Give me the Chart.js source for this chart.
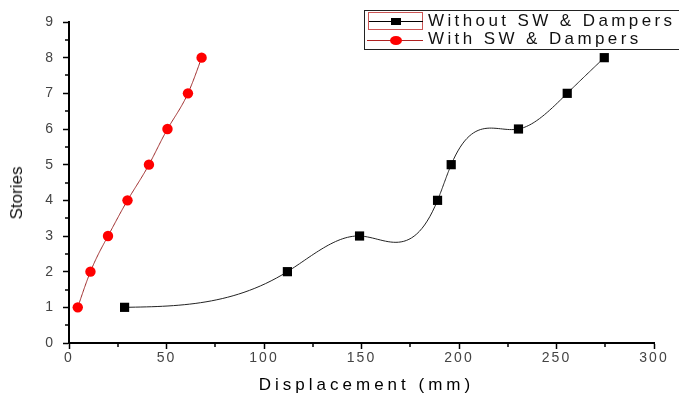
<!DOCTYPE html>
<html>
<head>
<meta charset="utf-8">
<script src="https://cdn.jsdelivr.net/npm/chart.js@4/dist/chart.umd.min.js"></script>
<style>
  html, body { margin: 0; padding: 0; background: #fff; }
  #wrap { position: relative; width: 679px; height: 394px; overflow: hidden; }
  canvas { position: absolute; left: 0; top: 0; }
  #legend {
    position: absolute; left: 364px; top: 10px; width: 340px; height: 40px;
    border: 1px solid #222; box-sizing: border-box;
  }
  .lab {
    position: absolute; left: 63px; white-space: nowrap;
    font-family: "Liberation Sans", Arial, sans-serif; font-size: 17px; letter-spacing: 3.4px; color: #111;
  }
  .abs { position: absolute; }
  #xtitle {
    position: absolute; left: 0; width: 733px; top: 375px; text-align: center;
    font-family: "Liberation Sans", Arial, sans-serif; font-size: 17px; letter-spacing: 4px; color: #000;
  }
  #ytitle {
    position: absolute; left: 17px; top: 193px; transform: translate(-50%, -50%) rotate(-90deg);
    font-family: "Liberation Sans Narrow", "Liberation Sans", Arial, sans-serif; font-size: 17px; color: #111;
    white-space: nowrap;
  }
</style>
</head>
<body>
<div id="wrap">
  <canvas id="chart" width="679" height="394"></canvas>
  <div id="legend">
    <div class="abs" style="left:3px; top:1px; width:55px; height:18px; border:1px solid #c55; box-sizing:border-box"></div>
    <div class="abs" style="left:4px; top:10px; width:54px; height:1px; background:#000"></div>
    <div class="abs" style="left:26px; top:7px; width:10px; height:7px; background:#000"></div>
    <div class="lab" style="top:0px">Without SW &amp; Dampers</div>
    <div class="abs" style="left:2px; top:29px; width:56px; height:1px; background:#b02222"></div>
    <div class="abs" style="left:25px; top:25px; width:12px; height:9px; border-radius:50%; background:#f00"></div>
    <div class="lab" style="top:18px">With SW &amp; Dampers</div>
  </div>
  <div id="xtitle">Displacement (mm)</div>
  <div id="ytitle">Stories</div>
</div>
<script>
// stories (y values)
const storyLevels = [1, 2, 3, 4, 5, 6, 7, 8]
// displacement (mm)
const withoutDisp = [28.5, 112, 149, 189, 196, 230.5, 255.5, 274.5]
const withDisp = [4.5, 11, 20, 30, 41, 50.5, 61, 68]

const xTicks = [0, 50, 100, 150, 200, 250, 300]
const yTicks = [0, 1, 2, 3, 4, 5, 6, 7, 8, 9]

const toPoints = (xs) => xs.map((x, i) => ({ x: x, y: storyLevels[i] }))

// natural cubic spline through the points (like Origin's "spline" connect)
function splineCoeffs(xs, ys) {
  const n = xs.length
  const h = []
  for (let i = 0; i < n - 1; i++) h.push(xs[i + 1] - xs[i])
  const M = new Array(n).fill(0)
  // tridiagonal solve for interior second derivatives
  const sub = [], diag = [], sup = [], rhs = []
  for (let i = 1; i < n - 1; i++) {
    sub.push(h[i - 1])
    diag.push(2 * (h[i - 1] + h[i]))
    sup.push(h[i])
    rhs.push(6 * ((ys[i + 1] - ys[i]) / h[i] - (ys[i] - ys[i - 1]) / h[i - 1]))
  }
  const m = diag.length
  for (let i = 1; i < m; i++) {
    const w = sub[i] / diag[i - 1]
    diag[i] -= w * sup[i - 1]
    rhs[i] -= w * rhs[i - 1]
  }
  const sol = new Array(m)
  for (let i = m - 1; i >= 0; i--) {
    sol[i] = (rhs[i] - (i < m - 1 ? sup[i] * sol[i + 1] : 0)) / diag[i]
  }
  for (let i = 0; i < m; i++) M[i + 1] = sol[i]
  return { h, M }
}

const splinePlugin = {
  id: "splineLines",
  beforeDatasetsDraw(chart) {
    const ctx = chart.ctx
    const xs = chart.scales.x, ys = chart.scales.y
    chart.data.datasets.forEach((ds) => {
      const px = ds.data.map((p) => p.x)
      const py = ds.data.map((p) => p.y)
      const { h, M } = splineCoeffs(px, py)
      ctx.save()
      ctx.beginPath()
      ctx.strokeStyle = ds.borderColor
      ctx.lineWidth = ds.borderWidth
      ctx.moveTo(xs.getPixelForValue(px[0]), ys.getPixelForValue(py[0]))
      for (let i = 0; i < px.length - 1; i++) {
        const steps = 30
        for (let s = 1; s <= steps; s++) {
          const x = px[i] + (h[i] * s) / steps
          const A = (px[i + 1] - x) / h[i], B = (x - px[i]) / h[i]
          const y = A * py[i] + B * py[i + 1] +
            ((A * A * A - A) * M[i] + (B * B * B - B) * M[i + 1]) * (h[i] * h[i]) / 6
          ctx.lineTo(xs.getPixelForValue(x), ys.getPixelForValue(y))
        }
      }
      ctx.stroke()
      ctx.restore()
    })
  },
}

const minorTicksPlugin = {
  id: "minorTicks",
  beforeDraw(chart) { chart.ctx.letterSpacing = "2px" },
  afterDraw(chart) {
    const ctx = chart.ctx
    ctx.letterSpacing = "0px"
    const xs = chart.scales.x, ys = chart.scales.y
    const area = chart.chartArea
    ctx.save()
    ctx.strokeStyle = "#000"
    ctx.lineWidth = 1.5
    ctx.beginPath()
    for (let v = 25; v < 300; v += 50) {
      const p = Math.round(xs.getPixelForValue(v))
      ctx.moveTo(p, area.bottom)
      ctx.lineTo(p, area.bottom + 4)
    }
    for (let v = 0.5; v < 9; v += 1) {
      const p = Math.round(ys.getPixelForValue(v))
      ctx.moveTo(area.left, p)
      ctx.lineTo(area.left - 4, p)
    }
    ctx.stroke()
    ctx.restore()
  },
}

const tickFont = { family: "'Liberation Sans', Arial, sans-serif", size: 14 }

new Chart(document.getElementById("chart"), {
  type: "line",
  data: {
    datasets: [
      {
        label: "Without SW & Dampers",
        data: toPoints(withoutDisp),
        showLine: false,
        borderColor: "#222",
        borderWidth: 1,
        backgroundColor: "#000",
        pointStyle: "rect",
        pointRadius: 6.5,
        pointBorderWidth: 0,
      },
      {
        label: "With SW & Dampers",
        data: toPoints(withDisp),
        showLine: false,
        borderColor: "#9e2a2a",
        borderWidth: 1,
        backgroundColor: "#f00",
        pointStyle: "circle",
        pointRadius: 5.2,
        pointBorderWidth: 0,
      },
    ],
  },
  plugins: [splinePlugin, minorTicksPlugin],
  options: {
    responsive: false,
    animation: false,
    layout: { padding: { top: 22, right: 25, left: 0, bottom: 0 } },
    plugins: { legend: { display: false }, tooltip: { enabled: false } },
    scales: {
      x: {
        type: "linear",
        min: 0,
        max: 300,
        afterFit: (s) => { s.height = 51 },
        ticks: {
          stepSize: 50,
          color: "#444",
          font: tickFont,
          padding: 1,
          maxRotation: 0,
          autoSkip: false,
          callback: (v) => (xTicks.includes(v) ? String(v) : ""),
        },
        border: { color: "#000", width: 2 },
        grid: { drawOnChartArea: false, tickLength: 6, tickColor: "#000", tickWidth: 1.5 },
      },
      y: {
        type: "linear",
        min: 0,
        max: 9,
        afterFit: (s) => { s.width = 69 },
        ticks: {
          stepSize: 1,
          color: "#444",
          font: tickFont,
          padding: 8,
          autoSkip: false,
          callback: (v) => (yTicks.includes(v) ? String(v) : ""),
        },
        border: { color: "#000", width: 2 },
        grid: { drawOnChartArea: false, tickLength: 6, tickColor: "#000", tickWidth: 1.5 },
      },
    },
  },
})
</script>
</body>
</html>
